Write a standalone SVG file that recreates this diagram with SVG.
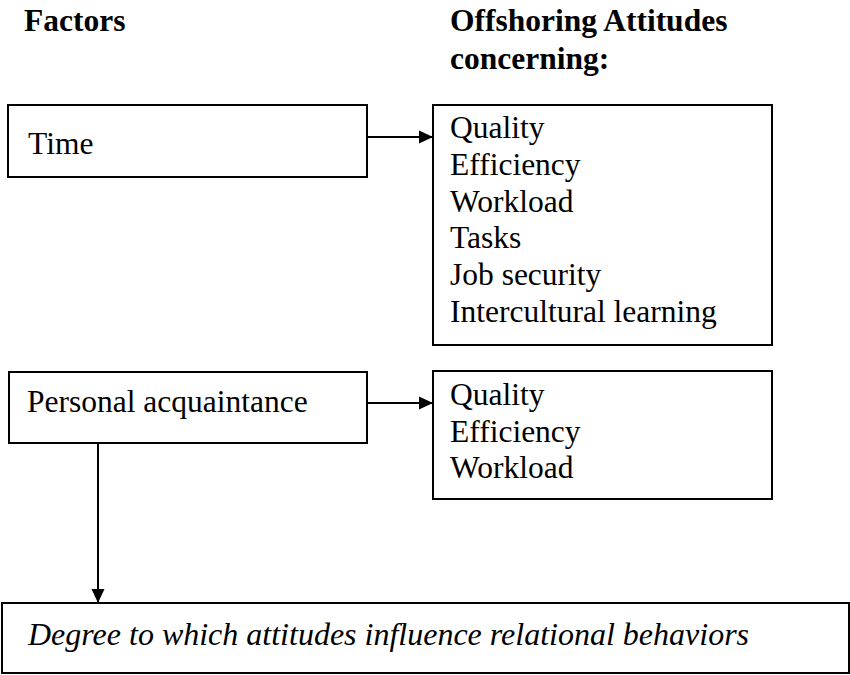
<svg xmlns="http://www.w3.org/2000/svg" width="850" height="675" viewBox="0 0 850 675">
<defs>
<marker id="ah" markerWidth="14" markerHeight="14" refX="14" refY="7" orient="auto" markerUnits="userSpaceOnUse">
<path d="M0,0.5 L14,7 L0,13.5 Z" fill="#000"/>
</marker>
<style>
text{font-size:31.5px;fill:#000}
.h{font-weight:bold}
.i{font-style:italic;font-size:32px}
rect{fill:#fff;stroke:#000;stroke-width:2}
.c{stroke:#000;stroke-width:2;fill:none}
</style>
</defs>
<rect x="0" y="0" width="850" height="675" style="stroke:none"/>
<g font-family="Liberation Serif, Times New Roman, serif">
<g id="headers">
<text class="h" x="24" y="31">Factors</text>
<text class="h" x="450" y="31">Offshoring Attitudes</text>
<text class="h" x="450" y="69">concerning:</text>
</g>
<g id="time">
<rect x="8" y="105" width="359" height="72"/>
<text x="28" y="154">Time</text>
</g>
<g id="attitudes1">
<rect x="433" y="105" width="339" height="240"/>
<text x="450" y="138">Quality</text>
<text x="450" y="175">Efficiency</text>
<text x="450" y="212">Workload</text>
<text x="450" y="248">Tasks</text>
<text x="450" y="285">Job security</text>
<text x="450" y="322">Intercultural learning</text>
</g>
<g id="personal">
<rect x="9" y="372" width="358" height="71"/>
<text x="27" y="412">Personal acquaintance</text>
</g>
<g id="attitudes2">
<rect x="433" y="371" width="339" height="128"/>
<text x="450" y="405">Quality</text>
<text x="450" y="442">Efficiency</text>
<text x="450" y="478">Workload</text>
</g>
<g id="degree">
<rect x="2" y="603" width="847" height="70"/>
<text class="i" x="28" y="645">Degree to which attitudes influence relational behaviors</text>
</g>
</g>
<g id="connectors">
<line class="c" x1="367" y1="137" x2="433" y2="137" marker-end="url(#ah)"/>
<line class="c" x1="367" y1="403" x2="433" y2="403" marker-end="url(#ah)"/>
<line class="c" x1="98" y1="443" x2="98" y2="603" marker-end="url(#ah)"/>
</g>
</svg>
